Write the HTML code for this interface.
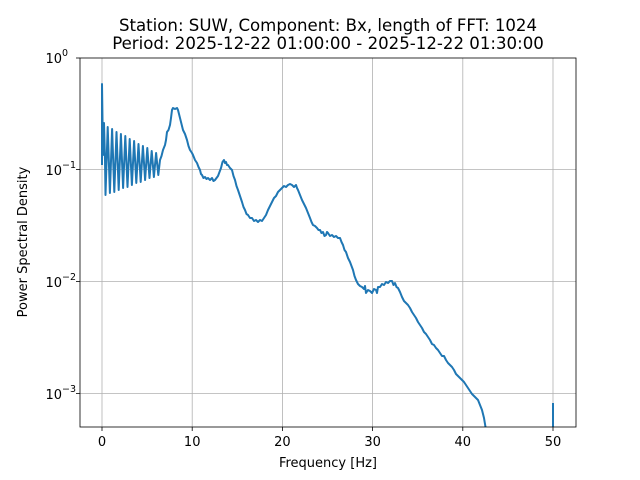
<!DOCTYPE html>
<html><head><style>
body{margin:0;background:#fff;}
svg{display:block;font-family:"DejaVu Sans","Liberation Sans",sans-serif;}
</style></head><body>
<svg width="640" height="480" viewBox="0 0 640 480" xmlns="http://www.w3.org/2000/svg">
<rect width="640" height="480" fill="#fff"/>
<defs><clipPath id="c"><rect x="80" y="58" width="496" height="369"/></clipPath></defs>
<g stroke="#b0b0b0" stroke-width="0.8">
<line x1="102" y1="58" x2="102" y2="427"/>
<line x1="192.2" y1="58" x2="192.2" y2="427"/>
<line x1="282.4" y1="58" x2="282.4" y2="427"/>
<line x1="372.6" y1="58" x2="372.6" y2="427"/>
<line x1="462.8" y1="58" x2="462.8" y2="427"/>
<line x1="553" y1="58" x2="553" y2="427"/>
<line x1="80" y1="169.5" x2="576" y2="169.5"/>
<line x1="80" y1="281.5" x2="576" y2="281.5"/>
<line x1="80" y1="393.5" x2="576" y2="393.5"/>
</g>
<g clip-path="url(#c)">
<polyline fill="none" stroke="#1f77b4" stroke-width="2" stroke-linejoin="round" points="102,165 102,84 103,155 104,123 105,160 105.5,195 107.7,127 109.9,193 112.1,129 114.3,192 116.5,132 118.7,190 120.9,134 123.1,188 125.3,136 127.5,187 129.7,139 131.9,185 134.1,141 136.3,183 138.5,144 140.7,182 142.9,146 145.1,180 147.3,148 149.5,178 151.7,151 153.9,177 156.1,153 158.3,175 160,160 161.5,156 163,150 165,145 166,140 167,132 168.5,130 170,125 171,118 172,110 173,108 175,109 177,108 178,110 179,114 180,118 181.5,124 183,130 185,134 187,140 188.5,146 190,150 192,153 193,155 195,160 197,163 198.5,167 200,170 201,174 202,175 203.5,178 205,177 206.5,179 208,178 210,180 212,178 213.5,181 215,180 216.5,178 218,176 219.5,172 221,168 222.5,162 224,160 225,163 226,162 227,165 228,165 230,168 232,170 233.5,176 235,180 236.5,186 238,190 240,196 242,202 243.5,207 245,210 246.5,214 248,215 250,218 252,218 254,221 256,220 258,222 260,220 262,221 264,218 266,215 268,210 270,206 272,202 274,198 276,196 278,192 280,190 282,188 284,186 286,187 288,185 290,184 292,185 294,187 296,185 297,188 298,190 300,195 302,200 304,204 306,208 308,213 310,218 311.5,222 313,225 315,226 317,228 318.5,230 320,230 321.5,233 323,232 324.5,236 326,235 327,232 328,233 330,236 332,235 334,237 336,236 338,238 340,238 341.5,242 343,245 344.5,250 346,252 348,258 350,262 351.5,266 353,270 354.5,276 356,280 358,284 360,286 362,287 364,289 365,286 366,293 368,290 370,291 372,293 374,289 376,290 377,293 378,287 380,287 382,284 384,285 386,282 388,283 390,281 392,281 393.5,285 395,283 396.5,287 398,288 400,292 402,297 404,301 406,303 408,305 410,308 412,312 414,315 416,318 418,322 420,325 422,328 424,332 426,334 428,337 430,340 432,344 434,345 436,348 438,350 440,353 442,356 444,356 446,360 448,363 450,365 452,367 454,370 456,374 458,376 460,378 462,380 464,382 466,385 468,388 470,391 472,394 474,396 476,398 478,400 480,405 482,410 484,418 486,430"/>
<polyline fill="none" stroke="#1f77b4" stroke-width="2" points="553,430 553,403"/>
</g>
<rect x="80" y="58" width="496" height="369" fill="none" stroke="#000" stroke-width="0.8"/>
<g stroke="#000" stroke-width="0.8">
<line x1="102" y1="427" x2="102" y2="431"/><line x1="192.2" y1="427" x2="192.2" y2="431"/>
<line x1="282.4" y1="427" x2="282.4" y2="431"/><line x1="372.6" y1="427" x2="372.6" y2="431"/>
<line x1="462.8" y1="427" x2="462.8" y2="431"/><line x1="553" y1="427" x2="553" y2="431"/>
<line x1="76" y1="58" x2="80" y2="58"/><line x1="76" y1="169.5" x2="80" y2="169.5"/>
<line x1="76" y1="281.5" x2="80" y2="281.5"/><line x1="76" y1="393.5" x2="80" y2="393.5"/>
</g>
<g font-size="13" fill="#000" text-anchor="middle">
<text x="102" y="446">0</text><text x="192.2" y="446">10</text><text x="282.4" y="446">20</text>
<text x="372.6" y="446">30</text><text x="462.8" y="446">40</text><text x="553" y="446">50</text>
<text x="328" y="467">Frequency [Hz]</text>
<text x="328" y="31" font-size="16.6">Station: SUW, Component: Bx, length of FFT: 1024</text>
<text x="328" y="49" font-size="16.6">Period: 2025-12-22 01:00:00 - 2025-12-22 01:30:00</text>
<text transform="translate(27,242) rotate(-90)">Power Spectral Density</text>
</g>
<g font-size="13" fill="#000" text-anchor="end">
<text x="62" y="63">10</text><text x="62" y="175">10</text><text x="62" y="287">10</text><text x="62" y="399">10</text>
</g>
<g font-size="9.5" fill="#000" text-anchor="start">
<text x="62" y="56">0</text><text x="62" y="168">−1</text><text x="62" y="280">−2</text><text x="62" y="392">−3</text>
</g>
</svg>
</body></html>
